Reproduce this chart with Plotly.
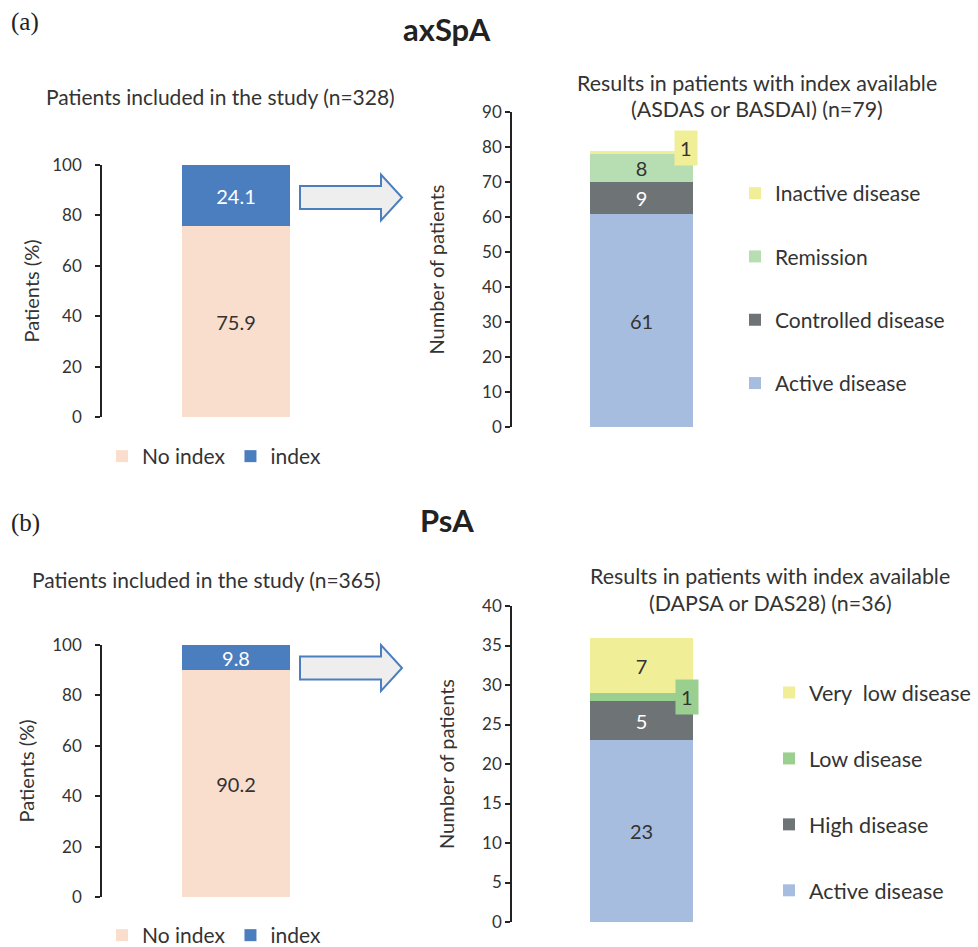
import plotly.graph_objects as go

W, H = 978, 947

# ---------------- data ----------------
a_left_cats = ["No index", "index"]
a_left_vals = [75.9, 24.1]
a_right_cats = ["Active disease", "Controlled disease", "Remission", "Inactive disease"]
a_right_vals = [61, 9, 8, 1]

b_left_cats = ["No index", "index"]
b_left_vals = [90.2, 9.8]
b_right_cats = ["Active disease", "High disease", "Low disease", "Very  low disease"]
b_right_vals = [23, 5, 1, 7]

left_colors = ["#F9DECD", "#4A7EBF"]
left_text = ["#333333", "#FFFFFF"]
a_right_colors = ["#A6BDE0", "#6E7376", "#B7DDB3", "#F1EE98"]
b_right_colors = ["#A6BDE0", "#6E7376", "#9ACF8F", "#F1EE98"]
right_text = ["#333333", "#FFFFFF", "#333333", "#333333"]

FONT = "Lato"
TXT = "#333333"

def px(x):
    return x / W

def py(y):
    return 1 - y / H

fig = go.Figure()

def add_left(vals, cats, xa, ya, legend):
    for v, c, col, tc in zip(vals, cats, left_colors, left_text):
        fig.add_trace(go.Bar(
            x=[0], y=[v], name=c, width=0.8, marker=dict(color=col, line=dict(width=0)),
            text=[f"{v:.1f}"], textposition="inside", insidetextanchor="middle",
            textangle=0, constraintext="none",
            textfont=dict(color=tc, size=20, family=FONT),
            xaxis=xa, yaxis=ya, legend=legend, showlegend=True, hoverinfo="skip"))

def add_right(vals, cats, colors, xa, ya, legend):
    n = len(vals)
    for i, (v, c, col, tc) in enumerate(zip(vals, cats, colors, right_text)):
        fig.add_trace(go.Bar(
            x=[0], y=[v], name=c, width=0.8, marker=dict(color=col, line=dict(width=0)),
            text=[str(v) if v > 1 else ""], textposition="inside", insidetextanchor="middle",
            textangle=0, constraintext="none",
            textfont=dict(color=tc, size=20, family=FONT),
            xaxis=xa, yaxis=ya, legend=legend, legendgroup=f"{legend}_{i}",
            legendrank=100 + (n - i), showlegend=True, hoverinfo="skip"))

add_left(a_left_vals, a_left_cats, "x", "y", "legend")
add_right(a_right_vals, a_right_cats, a_right_colors, "x2", "y2", "legend2")
add_left(b_left_vals, b_left_cats, "x3", "y3", "legend3")
add_right(b_right_vals, b_right_cats, b_right_colors, "x4", "y4", "legend4")

axis_common = dict(showline=True, linecolor="#222222", linewidth=1.6, ticks="outside",
                   ticklen=5, tickcolor="#222222", tickwidth=1.5, showgrid=False,
                   zeroline=False, tickfont=dict(size=17, family=FONT, color=TXT))
xcommon = dict(visible=False, range=[-1, 1], fixedrange=True)
tfont = dict(size=20, family=FONT, color=TXT)

fig.update_layout(
    width=W, height=H, margin=dict(l=0, r=0, t=0, b=0, autoexpand=False),
    paper_bgcolor="white", plot_bgcolor="white", barmode="stack", bargap=0,
    font=dict(family=FONT, color=TXT),
    xaxis=dict(domain=[px(102), px(370)], anchor="y", **xcommon),
    yaxis=dict(domain=[py(417), py(165)], range=[0, 100], dtick=20, anchor="x",
               ticklabelstandoff=10, **axis_common,
               title=dict(text="Patients (%)", font=tfont, standoff=7)),
    xaxis2=dict(domain=[px(512), px(771)], anchor="y2", **xcommon),
    yaxis2=dict(domain=[py(427), py(112)], range=[0, 90], dtick=10, anchor="x2",
                **axis_common,
                title=dict(text="Number of patients", font=tfont, standoff=32)),
    xaxis3=dict(domain=[px(102), px(370)], anchor="y3", **xcommon),
    yaxis3=dict(domain=[py(897), py(645)], range=[0, 100], dtick=20, anchor="x3",
                ticklabelstandoff=10, **axis_common,
                title=dict(text="Patients (%)", font=tfont, standoff=12)),
    xaxis4=dict(domain=[px(512), px(771)], anchor="y4", **xcommon),
    yaxis4=dict(domain=[py(922), py(606)], range=[0, 40], dtick=5, anchor="x4",
                **axis_common,
                title=dict(text="Number of patients", font=tfont, standoff=22)),
    legend=dict(orientation="h", x=px(102), y=py(436), xanchor="left", yanchor="top",
                font=dict(size=21, family=FONT, color=TXT), traceorder="normal",
                bgcolor="rgba(0,0,0,0)"),
    legend2=dict(orientation="v", x=px(735), y=py(173), xanchor="left", yanchor="top",
                 font=dict(size=21, family=FONT, color=TXT), traceorder="grouped",
                 tracegroupgap=33, bgcolor="rgba(0,0,0,0)"),
    legend3=dict(orientation="h", x=px(102), y=py(915), xanchor="left", yanchor="top",
                 font=dict(size=21, family=FONT, color=TXT), traceorder="normal",
                 bgcolor="rgba(0,0,0,0)"),
    legend4=dict(orientation="v", x=px(769), y=py(672), xanchor="left", yanchor="top",
                 font=dict(size=21.5, family=FONT, color=TXT), traceorder="grouped",
                 tracegroupgap=35, bgcolor="rgba(0,0,0,0)"),
)

ann = []
def text_ann(x, y, t, size, bold=False, family=FONT, color=TXT):
    ann.append(dict(x=px(x), y=py(y), xref="paper", yref="paper", text=(f"<b>{t}</b>" if bold else t),
                    showarrow=False, font=dict(size=size, family=family, color=color),
                    xanchor="center", yanchor="middle"))

text_ann(25, 22, "(a)", 25, family="Liberation Serif", color="#222222")
text_ann(447, 29, "axSpA", 31, bold=True, color="#222222")
text_ann(220, 96, "Patients included in the study (n=328)", 21)
text_ann(757, 83, "Results in patients with index available", 21.4)
text_ann(757, 109, "(ASDAS or BASDAI) (n=79)", 21.4)

text_ann(25, 523, "(b)", 25, family="Liberation Serif", color="#222222")
text_ann(447, 520, "PsA", 31, bold=True, color="#222222")
text_ann(206, 579, "Patients included in the study (n=365)", 21)
text_ann(770, 576, "Results in patients with index available", 21.4)
text_ann(770, 603, "(DAPSA or DAS28) (n=36)", 21.4)

# small-segment value boxes
a_cum = sum(a_right_vals[:3]) + a_right_vals[3] / 2
ann.append(dict(x=0.34, y=a_cum, xref="x2", yref="y2", text=str(a_right_vals[3]), showarrow=False,
                yshift=4, bgcolor=a_right_colors[3], borderpad=5,
                font=dict(size=20, family=FONT, color=TXT)))
b_cum = sum(b_right_vals[:2]) + b_right_vals[2] / 2
ann.append(dict(x=0.35, y=b_cum, xref="x4", yref="y4", text=str(b_right_vals[2]), showarrow=False,
                bgcolor=b_right_colors[2], borderpad=5,
                font=dict(size=20, family=FONT, color=TXT)))
fig.update_layout(annotations=ann)

# block arrows
def arrow_path(x0, x1, xh, yc, sh, hh):
    pts = [(x0, yc - sh), (xh, yc - sh), (xh, yc - hh), (x1, yc), (xh, yc + hh),
           (xh, yc + sh), (x0, yc + sh)]
    return "M " + " L ".join(f"{px(x):.5f},{py(y):.5f}" for x, y in pts) + " Z"

shapes = []
for yc in (197.5, 668):
    shapes.append(dict(type="path", xref="paper", yref="paper",
                       path=arrow_path(300, 402, 381, yc, 11.5, 23),
                       fillcolor="#EEEEEE", line=dict(color="#4A7EBF", width=2)))
fig.update_layout(shapes=shapes)

fig.write_html("out.html", config={"displayModeBar": False},
               post_script="document.body.style.margin='0px';")
